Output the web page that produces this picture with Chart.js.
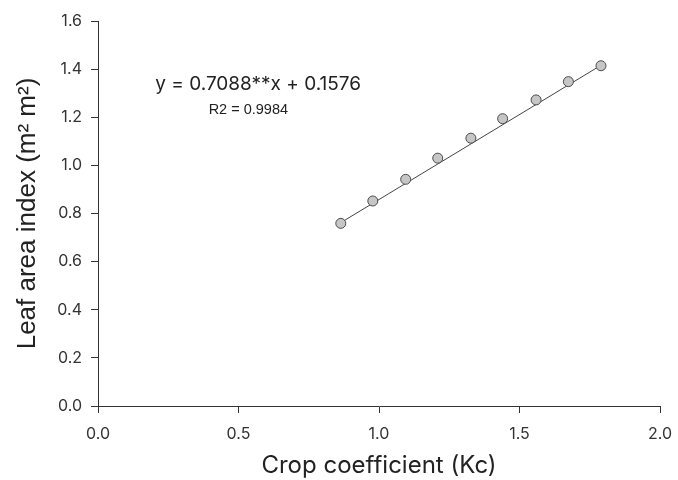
<!DOCTYPE html>
<html>
<head>
<meta charset="utf-8">
<script src="https://cdn.jsdelivr.net/npm/chart.js@4"></script>
<style>
html,body{margin:0;padding:0;background:#fff;}
#wrap{width:678px;height:480px;}
</style>
</head>
<body>
<div id="wrap"><canvas id="c" width="678" height="480"></canvas></div>
<script>
const kcValues = [0.864, 0.978, 1.095, 1.209, 1.327, 1.440, 1.559, 1.674, 1.790];
const laiValues = [0.759, 0.852, 0.942, 1.030, 1.113, 1.194, 1.272, 1.348, 1.414];
const trendX = [0.864, 1.790];
const trendY = [0.762, 1.416];
const xTicks = [0.0, 0.5, 1.0, 1.5, 2.0];
const yTicks = [0.0, 0.2, 0.4, 0.6, 0.8, 1.0, 1.2, 1.4, 1.6];
const equationText = 'y = 0.7088**x + 0.1576';
const r2Text = 'R2 = 0.9984';

const FONT = 'Inter, "Noto Sans", sans-serif';
const ARIAL = '"Liberation Sans", Arial, sans-serif';
const points = kcValues.map((x, i) => ({x: x, y: laiValues[i]}));
const trend = trendX.map((x, i) => ({x: x, y: trendY[i]}));

const annotationPlugin = {
  id: 'eqText',
  afterDraw(chart) {
    const ctx = chart.ctx;
    const xs = chart.scales.x, ys = chart.scales.y;
    ctx.save();
    ctx.fillStyle = '#222';
    ctx.textAlign = 'center';
    ctx.textBaseline = 'middle';
    ctx.font = '19px ' + FONT;
    ctx.fillText(equationText, xs.getPixelForValue(0.57), ys.getPixelForValue(1.338));
    ctx.font = '14.5px ' + ARIAL;
    ctx.fillText(r2Text, xs.getPixelForValue(0.535), ys.getPixelForValue(1.23));
    ctx.restore();
  }
};

new Chart(document.getElementById('c'), {
  type: 'scatter',
  data: {
    datasets: [
      {
        type: 'line',
        data: trend,
        borderColor: '#444',
        borderWidth: 1,
        pointRadius: 0,
        fill: false,
        order: 2
      },
      {
        data: points,
        backgroundColor: '#c6c6c6',
        borderColor: '#4a4a4a',
        borderWidth: 1,
        pointRadius: 5,
        order: 1
      }
    ]
  },
  options: {
    responsive: false,
    animation: false,
    layout: {padding: {left: 0, right: 18, top: 21, bottom: 0}},
    plugins: {legend: {display: false}, tooltip: {enabled: false}},
    scales: {
      x: {
        type: 'linear',
        min: 0, max: 2,
        afterBuildTicks(s) { s.ticks = xTicks.map(v => ({value: v})); },
        afterFit(s) { s.height = 74; s.paddingLeft = 0; s.paddingRight = 0; },
        ticks: {
          color: '#333',
          font: {family: FONT, size: 16},
          padding: 12,
          callback: v => v.toFixed(1)
        },
        grid: {drawOnChartArea: false, drawTicks: true, tickLength: 7, color: '#333'},
        border: {display: true, color: '#333', width: 1},
        title: {
          display: true,
          text: 'Crop coefficient (Kc)',
          color: '#222',
          font: {family: FONT, size: 24},
          padding: {top: 0, bottom: 0}
        }
      },
      y: {
        type: 'linear',
        min: 0, max: 1.6,
        afterBuildTicks(s) { s.ticks = yTicks.map(v => ({value: v})); },
        afterFit(s) { s.width = 98; s.paddingTop = 0; s.paddingBottom = 0; },
        ticks: {
          color: '#333',
          font: {family: FONT, size: 16},
          padding: 9,
          callback: v => v.toFixed(1)
        },
        grid: {drawOnChartArea: false, drawTicks: true, tickLength: 7, color: '#333'},
        border: {display: true, color: '#333', width: 1},
        title: {
          display: true,
          text: 'Leaf area index (m² m²)',
          color: '#222',
          font: {family: ARIAL, size: 26},
          padding: {top: 12, bottom: 0}
        }
      }
    }
  },
  plugins: [annotationPlugin]
});
</script>
</body>
</html>
